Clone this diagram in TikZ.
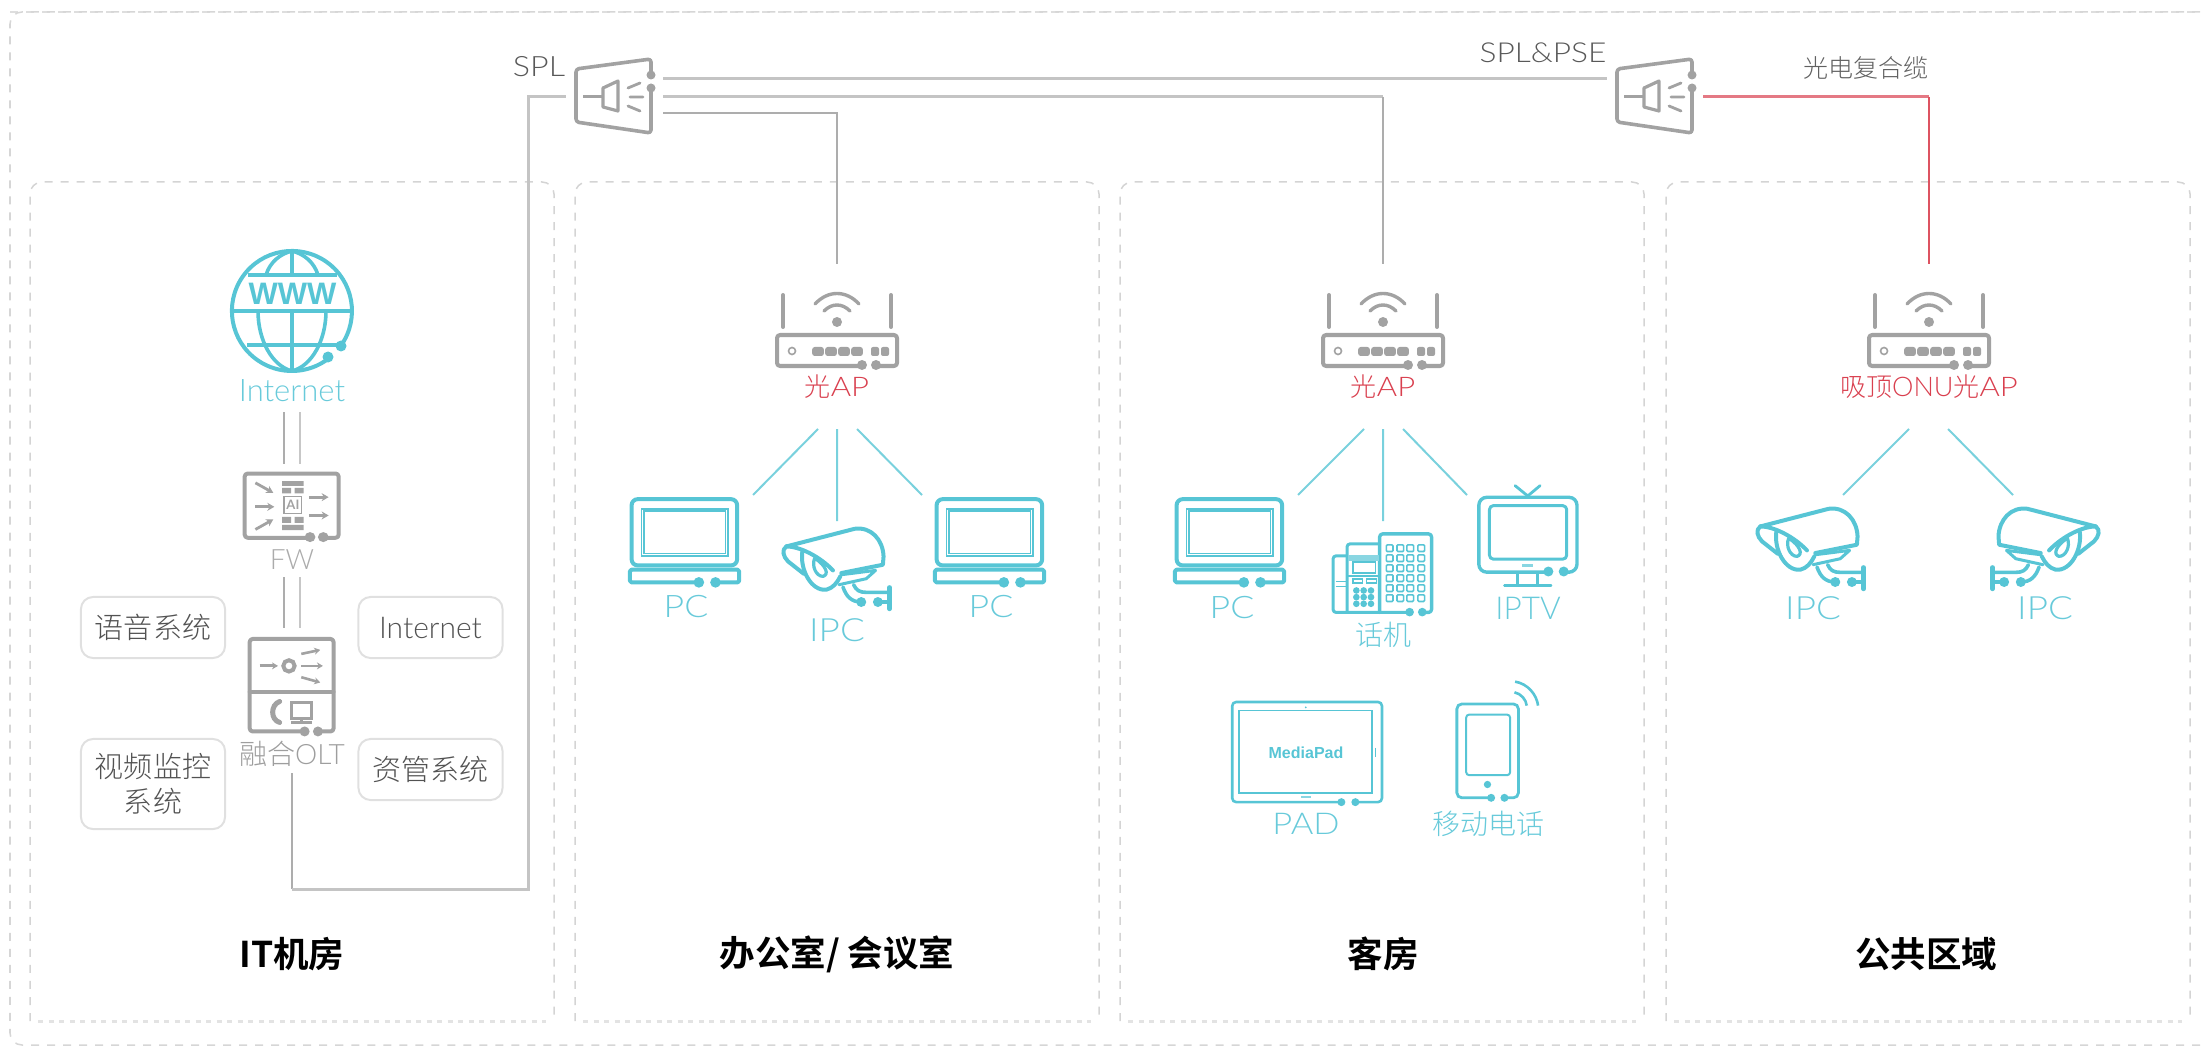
\documentclass[tikz,border=0pt]{standalone}
\usepackage{fontspec}
\usetikzlibrary{arrows.meta,calc}
\setmainfont{Lato}[UprightFont=* Light,BoldFont=* Bold]
\newfontfamily\latn{Lato}[UprightFont=* Light,BoldFont=* Bold,FakeStretch=1.15]
\newfontfamily\cjk{Noto Sans CJK SC}[UprightFont=* Light,BoldFont=* Bold]
\newfontfamily\hfont{Liberation Sans}
\def\pxu{0.2845pt}
\newcommand\fsz[1]{\fontsize{\fpeval{#1*0.2845}}{\fpeval{#1*0.2845*1.2}}\selectfont}
\definecolor{cy}{HTML}{57C5D5}
\definecolor{cyt}{HTML}{68CADA}
\definecolor{gi}{HTML}{A2A2A2}
\definecolor{rd}{HTML}{D9404F}
\tikzset{
 x=0.01cm,y=-0.01cm,
 lab/.style={inner sep=0pt,outer sep=0pt,anchor=center},
 cytext/.style={lab,text=cyt,font=\fsz{31}\latn},
 gtext/.style={lab,text=black!65,font=\fsz{28}\latn},
 rtext/.style={lab,text=rd,font=\fsz{27}\latn},
 title/.style={lab,text=black,font=\fsz{35.5}\bfseries\cjk},
 sysbox/.style={lab,draw=black!12,line width=2*\pxu,rounded corners=12*\pxu,align=center,text=black!68,font=\fsz{29}\cjk,minimum width=144*\pxu},
 zone/.style={draw=black!17,line width=1.5*\pxu,dash pattern=on 8*\pxu off 8*\pxu,rounded corners=12*\pxu},
 zoneb/.style={draw=black!11,line width=3*\pxu,dash pattern=on 5*\pxu off 5.5*\pxu},
 ico/.style={line width=4*\pxu,line join=round,line cap=round},
 cyi/.style={ico,draw=cy},
 gyi/.style={ico,draw=gi},
 cline/.style={draw=cy!80,line width=2*\pxu},
 gline/.style={draw=black!23,line width=3*\pxu},
 gdark/.style={draw=black!32,line width=2*\pxu},
 rline/.style={draw=rd!70,line width=3*\pxu},
 zm/.style={x=0.0033333cm,y=-0.0033333cm},
}
% icons
\newcommand\pcicon[1]{\begin{scope}[shift={(600+#1,400)},zm]
 \draw[cyi,rounded corners=6*\pxu] (95,298) rectangle (412,497);
 \draw[cy,line width=1.7*\pxu] (125,327) rectangle (385,468) (133,334) rectangle (377,461);
 \draw[cyi,rounded corners=1.5*\pxu] (297,548) -- (90,548) -- (90,510) -- (418,510) -- (418,548) -- (347,548);
 \fill[cy] (297,548) circle (16) (347,548) circle (16);
\end{scope}}
\newcommand\camicon{\begin{scope}[shift={(600,400)},zm]
 \draw[cyi,line width=4*\pxu] (560,440) -- (765,387) .. controls (815,380) and (850,420) .. (852,470) -- (850,495) -- (725,520);
 \draw[cyi,line width=4*\pxu] (560,440) .. controls (545,450) and (550,470) .. (565,485) -- (612,522);
 \draw[cyi,line width=4*\pxu] (560,440) .. controls (600,440) and (660,470) .. (700,512);
 \draw[cyi,line width=4*\pxu] (608,455) .. controls (600,510) and (635,575) .. (680,570) .. controls (700,565) and (712,550) .. (722,530);
 \draw[cyi,line width=3.2*\pxu] (645,475) .. controls (635,500) and (650,530) .. (670,530) .. controls (688,525) and (682,500) .. cycle;
 \draw[cyi,line width=3*\pxu] (718,555) -- (800,537) -- (828,512) -- (725,525);
 \draw[cyi,line width=3.6*\pxu] (730,562) .. controls (740,590) and (755,607) .. (785,607);
 \draw[cyi,line width=3.6*\pxu] (762,555) .. controls (770,572) and (780,578) .. (800,578) -- (870,578);
 \draw[cyi,line width=3.6*\pxu] (835,607) -- (870,607);
 \draw[cyi,line width=4.4*\pxu] (870,563) -- (870,628);
 \fill[cy] (785,607) circle (15) (835,607) circle (15);
\end{scope}}
\newcommand\apicon[1]{\begin{scope}[shift={(#1,0)}]
 \draw[gyi] (-54,295) -- (-54,327) (54,295) -- (54,327);
 \fill[gi] (0,322) circle (5);
 \draw[gyi,line width=3.4*\pxu] (-22,304) .. controls (-9,290) and (9,290) .. (22,304);
 \draw[gyi,line width=3.4*\pxu] (-13,311) .. controls (-5,303) and (5,303) .. (13,311);
 \draw[gyi,rounded corners=3*\pxu] (25,366) -- (-60,366) -- (-60,335) -- (60,335) -- (60,366) -- (39,366);
 \fill[gi] (25,365) circle (5) (39,365) circle (5);
 \draw[gi,line width=1.6*\pxu] (-45,351) circle (3.5);
 \foreach \p in {-19,-6,7,20} {\fill[gi,rounded corners=2.5*\pxu] (\p-5.8,356) rectangle (\p+5.8,347);}
 \foreach \p in {38,48} {\fill[gi,rounded corners=2*\pxu] (\p-4,356) rectangle (\p+4,347);}
\end{scope}}
\newcommand\splicon[1]{\begin{scope}[shift={(#1,0)}]
 \draw[gyi,line width=3.6*\pxu,rounded corners=3*\pxu] (651,75) -- (651,59) -- (576,69) -- (576,122) -- (651,133) -- (651,88);
 \fill[gi] (651,75) circle (4.5) (651,88) circle (4.5);
 \draw[gyi,line width=3*\pxu,line cap=butt] (583,97) -- (603,97);
 \draw[gyi,line width=3.2*\pxu] (603,88) -- (618,81) -- (618,111) -- (603,107) -- cycle;
 \draw[gyi,line width=2.8*\pxu] (628,88) -- (640,83) (630,97) -- (643,97) (628,106) -- (640,111);
\end{scope}}
\begin{document}
\begin{tikzpicture}
\useasboundingbox (0,0) rectangle (2201,1046);
% outer
\draw[draw=black!13,line width=2.6*\pxu,dash pattern=on 8*\pxu off 8*\pxu] (10,12) -- (2200,12);
\draw[draw=black!16,line width=1.5*\pxu,dash pattern=on 8*\pxu off 8*\pxu,rounded corners=12*\pxu] (2200,12) -- (10,12) -- (10,1045) -- (2200,1045);
% zones
\foreach \a/\b in {30/554,575/1099,1120/1644,1666/2190}{
 \draw[zone] (\a,1021) -- (\a,182) -- (\b,182) -- (\b,1021);
 \draw[zoneb] (\a+8,1021) -- (\b-8,1021);
}
% anchor coordinates
\coordinate (oltout) at (292,773);
\coordinate (splin) at (566,97);
\coordinate (spla) at (663,79);
\coordinate (splb) at (663,97);
\coordinate (splc) at (663,113);
\coordinate (pse) at (1607,79);
\coordinate (pseout) at (1703,97);
\coordinate (ap1) at (837,264);
\coordinate (ap2) at (1383,264);
\coordinate (ap3) at (1929,264);
\coordinate (neta) at (283.5,412); \coordinate (netb) at (300,412);
\coordinate (fwa) at (283.5,464); \coordinate (fwb) at (300,464);
\coordinate (fwc) at (283.5,577); \coordinate (fwd) at (300,577);
\coordinate (olta) at (283.5,628); \coordinate (oltb) at (300,628);
% wiring
\draw[gdark] (oltout) -- (292,889);
\draw[gline] (292,889) -- (528,889) -- (528,97) -- (splin);
\draw[gline] (spla) -- (pse);
\draw[gline] (splb) -- (1383,97);
\draw[gdark] (1383,97) -- (ap2);
\draw[gdark] (splc) -- (837,113) -- (ap1);
\draw[rline] (pseout) -- (1929,97);
\draw[rd!90,line width=2*\pxu] (1929,97) -- (ap3);
\draw[gdark] (neta) -- (fwa) (fwc) -- (olta);
\draw[draw=black!22,line width=2*\pxu] (netb) -- (fwb) (fwd) -- (oltb);
% cyan links
\coordinate (a1) at (818,429); \coordinate (a2) at (837,429); \coordinate (a3) at (857,429);
\coordinate (pc1) at (753,495); \coordinate (ipc1) at (837,521); \coordinate (pc2) at (922,495);
\draw[cline] (a1) -- (pc1) (a2) -- (ipc1) (a3) -- (pc2);
\coordinate (b1) at (1364,429); \coordinate (b2) at (1383,429); \coordinate (b3) at (1403,429);
\coordinate (pc3) at (1298,495); \coordinate (tel) at (1383,521); \coordinate (tv) at (1467,495);
\draw[cline] (b1) -- (pc3) (b2) -- (tel) (b3) -- (tv);
\coordinate (c1) at (1909,429); \coordinate (c3) at (1948,429);
\coordinate (ipc2) at (1843,495); \coordinate (ipc3) at (2013,495);
\draw[cline] (c1) -- (ipc2) (c3) -- (ipc3);
% globe
\draw[cyi,line width=4*\pxu,line cap=butt] (341.1,345.4) arc[start angle=-35,end angle=308,radius=60*\pxu];
\fill[cy] (341,346) circle (5.5) (328,357) circle (5.5);
\draw[cy,line width=3.6*\pxu] (292,251) -- (292,275) (292,311) -- (292,371)
 (248,275) -- (337,275) (232,311) -- (352,311) (247,345) -- (338,345);
\draw[cy,line width=3.6*\pxu] (292,251) .. controls (280,254) and (270,262) .. (266,275)
 (292,251) .. controls (304,254) and (314,262) .. (318,275)
 (258,311) .. controls (258,340) and (272,366) .. (292,371)
 (326,311) .. controls (326,340) and (312,366) .. (292,371);
\node[lab,text=cy,font=\hfont\bfseries\fsz{31}] (www) at (292.5,294) {WWW};
\node[cytext,font=\fsz{31}] (internet) at (292,391) {Internet};
% FW
\begin{scope}[shift={(0,180)},x=0.0035714cm,y=-0.0033333cm]
 \draw[gyi,rounded corners=3*\pxu] (868,1075) -- (685,1075) -- (685,882) -- (948,882) -- (948,1075) -- (905,1075);
 \fill[gi] (868,1073) circle (15) (905,1073) circle (15);
 \foreach \a/\b/\c/\d in {715/910/765/940,715/982/768/982,715/1050/765/1020,865/953/920/953,865/1008/920/1008}
  {\draw[gi,line width=2.8*\pxu,-{Stealth[length=7*\pxu,width=8*\pxu]}] (\a,\b) -- (\c,\d);}
 \fill[gi] (790,905) rectangle (850,919) (790,925) rectangle (815,942) (825,925) rectangle (850,942)
  (790,1012) rectangle (815,1030) (825,1012) rectangle (850,1030) (790,1036) rectangle (850,1052);
 \draw[gi,line width=1.2*\pxu] (795,950) rectangle (845,1003);
 \node[lab,text=gi,font=\fsz{13}\bfseries] (ai) at (820,977) {AI};
\end{scope}
\node[lab,text=black!33,font=\fsz{28}] (fw) at (292,560) {FW};
% OLT
\begin{scope}[shift={(60,590)},zm]
 \draw[gyi,rounded corners=3*\pxu] (735,425) -- (570,425) -- (570,147) -- (822,147) -- (822,425) -- (775,425);
 \draw[gyi] (570,305) -- (822,305);
 \fill[gi] (735,425) circle (15) (775,425) circle (15);
 \draw[gi,line width=2.8*\pxu,-{Stealth[length=6*\pxu,width=7*\pxu]}] (600,228) -- (655,228);
 \draw[gi,line width=4*\pxu] (688,228) circle (17);
 \foreach \a/\b/\c/\d in {725/192/782/180,725/228/790/228,725/262/782/278}
  {\draw[gi,line width=2.6*\pxu,-{Stealth[length=6*\pxu,width=7*\pxu]}] (\a,\b) -- (\c,\d);}
 \draw[gi,line width=5*\pxu,line cap=round] (660,335) .. controls (632,345) and (632,390) .. (660,398);
 \draw[gi,line width=3*\pxu] (695,338) rectangle (757,385) (725,385) -- (725,395) (695,398) -- (757,398);
\end{scope}
\node[lab,text=black!38,font=\fsz{28}] (olt) at (292,754) {{\cjk 融合}OLT};
% boxes
\node[sysbox,minimum height=61*\pxu] (voice) at (153,627.5) {语音系统};
\node[sysbox,minimum height=61*\pxu,font=\fsz{30}] (net2) at (430.5,627.5) {Internet};
\node[sysbox,minimum height=90*\pxu] (video) at (153,784) {视频监控\\系统};
\node[sysbox,minimum height=61*\pxu] (asset) at (430.5,769.5) {资管系统};
% splitters
\splicon{0}\splicon{1041}
\node[gtext] (spl) at (539,67) {SPL};
\node[gtext,font=\fsz{27.5}\latn] (splpse) at (1543,53) {SPL\&PSE};
\node[lab,text=black!62,font=\fsz{25}\cjk] (cable) at (1866,68) {光电复合缆};
% APs
\apicon{837}\apicon{1383}\apicon{1929}
\node[rtext] (apl1) at (837,387) {{\cjk\fsz{26}光}AP};
\node[rtext] (apl2) at (1383,387) {{\cjk\fsz{26}光}AP};
\node[rtext] (apl3) at (1929,387) {{\cjk\fsz{26}吸顶}{\rmfamily ONU}{\cjk\fsz{26}光}AP};
% PCs
\pcicon{0}\pcicon{305}\pcicon{545}
\node[cytext] (pcl1) at (686,607) {PC};
\node[cytext] (pcl2) at (991,607) {PC};
\node[cytext] (pcl3) at (1232,608) {PC};
% cameras
\camicon
\node[cytext,font=\fsz{32}\latn] (ipcl1) at (837,630) {IPC};
\begin{scope}[shift={(974,-20)}]\camicon\end{scope}
\begin{scope}[shift={(2882,-20)},xscale=-1]\camicon\end{scope}
\node[cytext,font=\fsz{32}\latn] (ipcl2) at (1813,608) {IPC};
\node[cytext,font=\fsz{32}\latn] (ipcl3) at (2045,608) {IPC};
% panel 3 icons in crop coordinates
\begin{scope}[shift={(1150,470)},zm]
 % desk phone
 \draw[cyi,line width=3*\pxu,rounded corners=3*\pxu] (778,428) -- (550,428) -- (550,258) -- (592,258);
 \draw[cyi,line width=3*\pxu,rounded corners=3*\pxu] (592,428) -- (592,222) -- (690,222);
 \draw[cyi,line width=3.4*\pxu,rounded corners=3*\pxu] (690,428) -- (690,192) -- (846,192) -- (846,428) -- (818,428);
 \fill[cy] (780,427) circle (13) (818,427) circle (13);
 \foreach \xx in {720,752,782,815}\foreach \yy in {235,265,295,325,355,385}
  {\draw[cy,line width=1.6*\pxu,rounded corners=1*\pxu] (\xx-10,\yy-10) rectangle (\xx+10,\yy+10);}
 \fill[cy!70] (596,255) rectangle (688,272);
 \draw[cy,line width=1.6*\pxu] (610,277) rectangle (678,310) (596,318) -- (688,318);
 \draw[cy,line width=1.4*\pxu] (610,328) rectangle (638,340) (650,328) rectangle (680,340);
 \foreach \xx in {620,642,664}\foreach \yy in {362,382,402}{\fill[cy] (\xx,\yy) circle (10);}
 \draw[cy,line width=1.4*\pxu] (558,335) -- (588,335) (558,350) -- (588,350);
 % tv
 \draw[cyi,line width=3.4*\pxu,rounded corners=8*\pxu] (1197,307) -- (988,307) -- (988,82) -- (1283,82) -- (1283,307) -- (1243,307);
 \draw[cyi,line width=3*\pxu,rounded corners=4*\pxu] (1020,107) rectangle (1252,268);
 \draw[cyi,line width=2.8*\pxu] (1097,47) -- (1135,78) -- (1172,47);
 \draw[cyi,line width=2.8*\pxu] (1105,310) -- (1105,345) (1165,310) -- (1165,345) (1065,347) -- (1205,347);
 \fill[cy!70] (1118,281) rectangle (1152,290);
 \fill[cy] (1197,305) circle (15) (1243,305) circle (15);
 % pad
 \draw[cy,line width=2.6*\pxu,rounded corners=4*\pxu] (575,998) -- (247,998) -- (247,697) -- (697,697) -- (697,998) -- (617,998);
 \draw[cy,line width=1.6*\pxu] (267,723) rectangle (667,970);
 \fill[cy] (575,998) circle (12) (617,998) circle (12);
 \fill[cy!70] (453,980) rectangle (483,986);
 \draw[cy,line width=1*\pxu] (678,835) -- (678,862);
 \fill[cy] (468,713) circle (3);
 % mobile
 \draw[cy,line width=2.8*\pxu,rounded corners=5*\pxu] (1025,985) -- (922,985) -- (922,703) -- (1107,703) -- (1107,985) -- (1065,985);
 \draw[cy,line width=2*\pxu,rounded corners=3*\pxu] (950,735) rectangle (1082,917);
 \fill[cy] (1014,945) circle (11) (1025,985) circle (12) (1065,985) circle (12);
 \draw[cy,line width=2.6*\pxu] (1095,668) .. controls (1115,672) and (1130,690) .. (1132,708);
 \draw[cy,line width=2.6*\pxu] (1097,636) .. controls (1135,642) and (1162,675) .. (1166,708);
\end{scope}
\node[cytext,font=\fsz{28}\cjk] (tell) at (1383,635) {话机};
\node[cytext,font=\fsz{31.5}] (iptv) at (1528,608) {IPTV};
\node[lab,text=cy,font=\hfont\bfseries\fsz{16}] (mp) at (1306,753) {MediaPad};
\node[cytext,font=\fsz{30}\latn] (pad) at (1306,824) {PAD};
\node[cytext,font=\fsz{28}\cjk] (mob) at (1488,824) {移动电话};
% titles
\node[title] (t1) at (292,954) {IT机房};
\node[title] (t2) at (837,954) {办公室/ 会议室};
\node[title] (t3) at (1383,954) {客房};
\node[title] (t4) at (1926,954) {公共区域};
\end{tikzpicture}
\end{document}
